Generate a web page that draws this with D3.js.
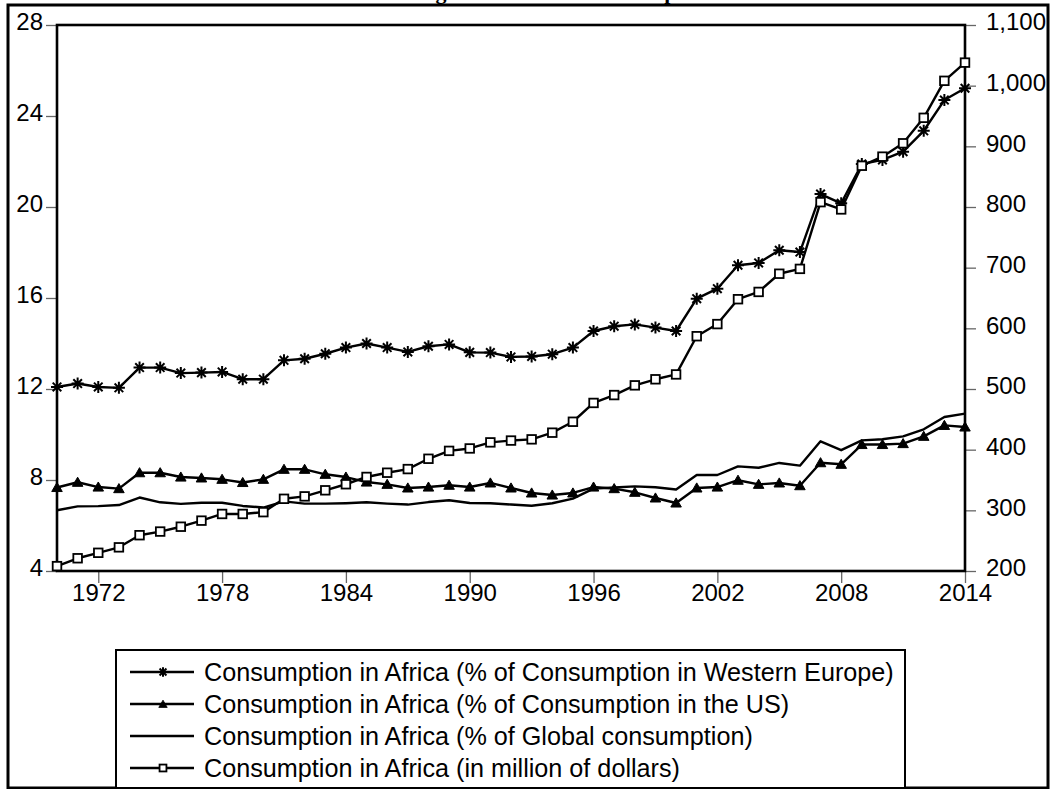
<!DOCTYPE html>
<html>
<head>
<meta charset="utf-8">
<script src="https://cdn.jsdelivr.net/npm/d3@7"></script>
<style>
  html, body { margin: 0; padding: 0; background: #fff; }
  svg { display: block; font-family: "Liberation Sans", Arial, sans-serif; }
  .tick line { stroke: #666; stroke-width: 1.3; }
  .tick text { fill: #000; font-size: 24px; }
</style>
</head>
<body>
<svg id="chart" width="1052" height="789"></svg>
<script>
// years 1970 - 2014
let years = d3.range(1970, 2015);
let xTickYears = [1972, 1978, 1984, 1990, 1996, 2002, 2008, 2014];
let leftTicks = [4, 8, 12, 16, 20, 24, 28];
let rightTicks = [200, 300, 400, 500, 600, 700, 800, 900, 1000, 1100];

// % of consumption in Western Europe (left axis)
let westernEurope = [12.09, 12.24, 12.09, 12.05, 12.94, 12.94, 12.70, 12.72, 12.75, 12.43,
  12.43, 13.26, 13.33, 13.55, 13.82, 14.00, 13.82, 13.63, 13.88, 13.96,
  13.61, 13.60, 13.41, 13.43, 13.53, 13.82, 14.55, 14.76, 14.84, 14.70,
  14.55, 15.97, 16.41, 17.44, 17.54, 18.10, 18.02, 20.57, 20.16, 21.89,
  22.07, 22.43, 23.35, 24.70, 25.22];
// % of consumption in the US (left axis)
let unitedStates = [7.67, 7.90, 7.69, 7.62, 8.32, 8.32, 8.13, 8.09, 8.03, 7.89,
  8.03, 8.47, 8.47, 8.25, 8.13, 7.91, 7.81, 7.65, 7.69, 7.77,
  7.69, 7.87, 7.65, 7.43, 7.34, 7.43, 7.69, 7.62, 7.46, 7.21,
  6.99, 7.65, 7.69, 7.99, 7.81, 7.87, 7.75, 8.76, 8.69, 9.56,
  9.56, 9.60, 9.92, 10.40, 10.33];
// % of global consumption (left axis)
let globalShare = [6.67, 6.84, 6.85, 6.90, 7.23, 7.02, 6.95, 7.00, 7.00, 6.86,
  6.79, 7.06, 6.96, 6.96, 6.98, 7.02, 6.96, 6.92, 7.03, 7.11,
  6.99, 6.98, 6.92, 6.87, 6.98, 7.18, 7.62, 7.67, 7.72, 7.68,
  7.58, 8.22, 8.22, 8.60, 8.54, 8.75, 8.63, 9.70, 9.31, 9.74,
  9.79, 9.92, 10.23, 10.77, 10.92];
// million of dollars (right axis)
let millions = [208, 221, 230, 239, 259, 265, 273, 283, 294, 294,
  297, 319, 323, 333, 343, 355, 362, 368, 385, 398,
  402, 412, 415, 417, 428, 446, 477, 490, 506, 516,
  524, 587, 607, 648, 660, 690, 698, 808, 796, 868,
  883, 905, 947, 1008, 1038];

let legendLabels = [
  "Consumption in Africa (% of Consumption in Western Europe)",
  "Consumption in Africa (% of Consumption in the US)",
  "Consumption in Africa (% of Global consumption)",
  "Consumption in Africa (in million of dollars)"
];

let plot = {left: 57, right: 965, top: 25, bottom: 571};

let svg = d3.select("#chart");

// outer frame
svg.append("rect")
  .attr("x", 8).attr("y", 5).attr("width", 1040).attr("height", 783)
  .attr("fill", "none").attr("stroke", "#000").attr("stroke-width", 3);

// title, mostly cut off by the top edge
svg.append("text")
  .attr("x", 416).attr("y", -1.5)
  .style("font-family", "'Liberation Serif', 'Times New Roman', serif")
  .style("font-weight", "bold").style("font-size", "22px")
  .text("Figure 1: Africa's Consumption");

let x = d3.scaleLinear().domain([1970, 2014]).range([plot.left, plot.right]);
let yL = d3.scaleLinear().domain([4, 28]).range([plot.bottom, plot.top]);
let yR = d3.scaleLinear().domain([200, 1100]).range([plot.bottom, plot.top]);

// axes
let gx = svg.append("g")
  .attr("transform", "translate(0," + plot.bottom + ")")
  .call(d3.axisBottom(x).tickValues(xTickYears).tickFormat(d3.format("d")).tickSize(12).tickPadding(1));
let gl = svg.append("g")
  .attr("transform", "translate(" + plot.left + ",0)")
  .call(d3.axisLeft(yL).tickValues(leftTicks).tickSize(11).tickPadding(3));
let gr = svg.append("g")
  .attr("transform", "translate(" + plot.right + ",0)")
  .call(d3.axisRight(yR).tickValues(rightTicks).tickFormat(d3.format(",")).tickSize(11).tickPadding(10));
[gx, gl, gr].forEach(g => g.select(".domain").remove());
gl.selectAll("text").attr("dy", "0.2em");
gr.selectAll("text").attr("dy", "0.2em");

// plot border
svg.append("rect")
  .attr("x", plot.left).attr("y", plot.top)
  .attr("width", plot.right - plot.left).attr("height", plot.bottom - plot.top)
  .attr("fill", "none").attr("stroke", "#000").attr("stroke-width", 2.6);

let star = "M-6,0L6,0M0,-6L0,6M-4.3,-4.3L4.3,4.3M-4.3,4.3L4.3,-4.3";
let tri = d3.symbol().type(d3.symbolTriangle).size(48)();

function drawSeries(values, yScale, marker) {
  let pts = values.map((v, i) => [x(years[i]), yScale(v)]);
  svg.append("path")
    .attr("d", d3.line()(pts))
    .attr("fill", "none").attr("stroke", "#000").attr("stroke-width", 2.4)
    .attr("stroke-linejoin", "round");
  if (!marker) return;
  let g = svg.append("g");
  pts.forEach(p => drawMarker(g, marker, p[0], p[1], 1));
}

function drawMarker(g, marker, cx, cy, s) {
  if (marker === "star") {
    g.append("path").attr("d", star)
      .attr("transform", "translate(" + cx + "," + cy + ") scale(" + s + ")")
      .attr("stroke", "#000").attr("stroke-width", 2 / s).attr("fill", "none");
  } else if (marker === "tri") {
    g.append("path").attr("d", tri)
      .attr("transform", "translate(" + cx + "," + (cy + 1) + ") scale(" + s + ")")
      .attr("fill", "#000").attr("stroke", "#000").attr("stroke-width", 1);
  } else if (marker === "square") {
    let h = 4.3 * s;
    g.append("rect")
      .attr("x", cx - h).attr("y", cy - h).attr("width", 2 * h).attr("height", 2 * h)
      .attr("fill", "#fff").attr("stroke", "#000").attr("stroke-width", 1.8);
  }
}

drawSeries(westernEurope, yL, "star");
drawSeries(unitedStates, yL, "tri");
drawSeries(globalShare, yL, null);
drawSeries(millions, yR, "square");

// legend
let legend = svg.append("g");
legend.append("rect")
  .attr("x", 116).attr("y", 650).attr("width", 789).attr("height", 138)
  .attr("fill", "#fff").attr("stroke", "#000").attr("stroke-width", 2);
let markers = ["star", "tri", null, "square"];
legendLabels.forEach((label, i) => {
  let cy = 672 + i * 32;
  legend.append("line")
    .attr("x1", 130).attr("x2", 194).attr("y1", cy).attr("y2", cy)
    .attr("stroke", "#000").attr("stroke-width", 2.4);
  if (markers[i]) drawMarker(legend, markers[i], 163, cy, 0.8);
  legend.append("text")
    .attr("x", 204).attr("y", cy).attr("dy", "0.35em")
    .style("font-size", "25.2px")
    .text(label);
});
</script>
</body>
</html>
